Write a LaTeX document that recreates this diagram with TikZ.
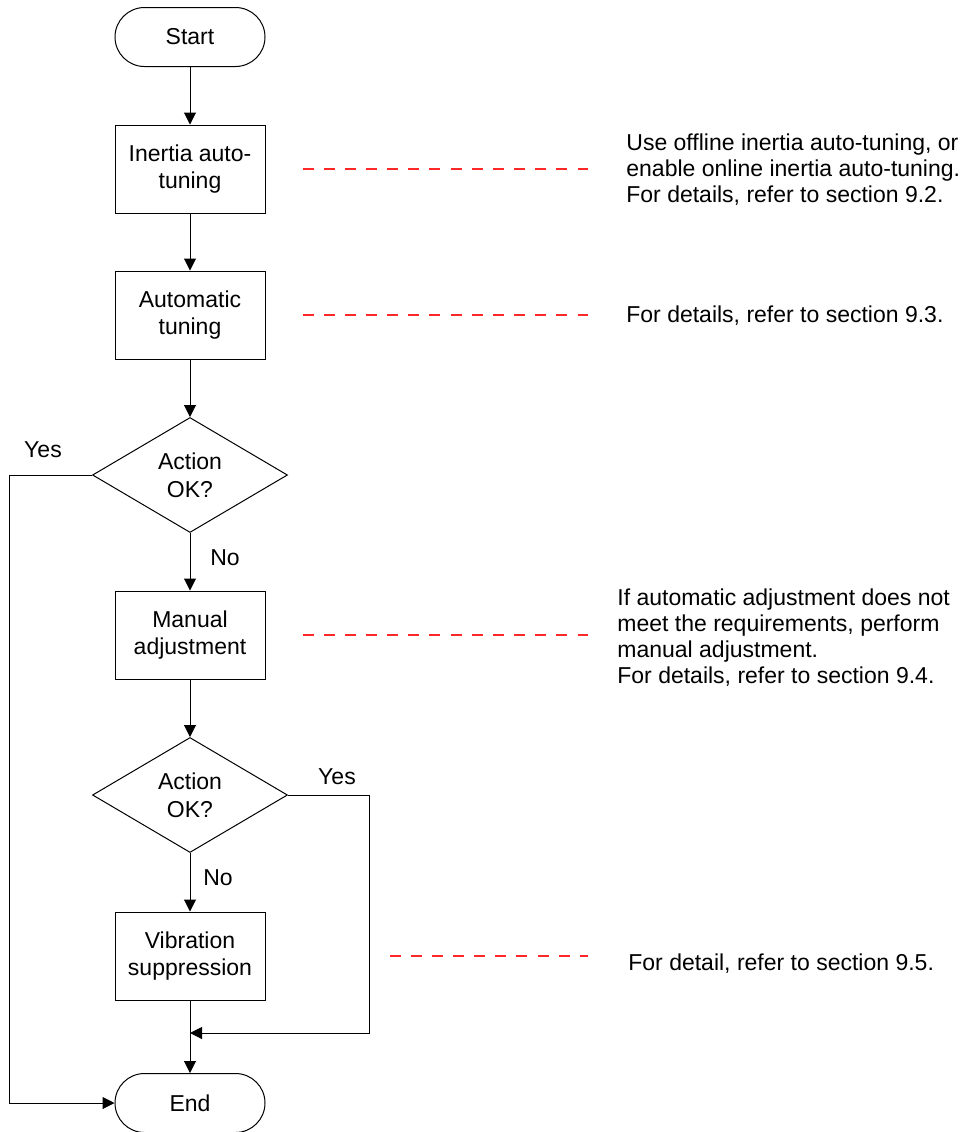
\documentclass[tikz,border=0pt]{standalone}
\usepackage{fontspec}
\setmainfont{Liberation Sans}
\usepackage{xcolor}
\usetikzlibrary{arrows.meta,shapes.geometric}
\definecolor{guidered}{RGB}{255,40,40}

\begin{document}
\begin{tikzpicture}[
  x=0.5pt,y=-0.5pt,
  font=\fontsize{11.5}{13.8}\selectfont,
  term/.style={draw,rectangle,rounded corners=14.75pt,minimum width=75pt,
               minimum height=29.5pt,align=center,line width=0.5pt},
  proc/.style={draw,rectangle,minimum width=75pt,minimum height=44pt,
               align=center,line width=0.5pt,inner sep=2pt},
  decide/.style={draw,diamond,minimum width=97.5pt,minimum height=57.5pt,
                 align=center,line width=0.5pt,inner sep=0pt,aspect=1.7},
  note/.style={anchor=west,align=left,inner sep=0pt,
               font=\fontsize{11.5}{13}\selectfont},
  arr/.style={-{Triangle[length=6pt,width=6pt]},line width=0.5pt},
  plain/.style={line width=0.5pt},
  guide/.style={guidered,line width=0.6pt,dash pattern=on 5.5pt off 5.08pt},
  lbl/.style={inner sep=0pt}
]
\useasboundingbox (0,0) rectangle (964,1132);

%% Main flow
\node[term]   (start)    at (190,37)   {Start};
\node[proc]   (inertia)  at (190,169)  {Inertia auto-\\tuning};
\node[proc]   (autotune) at (190,315)  {Automatic\\tuning};
\node[decide] (check1)   at (190,475)  {Action\\OK?};
\node[proc]   (manual)   at (190,635)  {Manual\\adjustment};
\node[decide] (check2)   at (190,795)  {Action\\OK?};
\node[proc]   (vib)      at (190,956)  {Vibration\\suppression};
\node[term]   (stop)     at (190,1103) {End};
\coordinate (join) at (190,1033);

%% Notes on the right
\node[note] (note1) at (626,170) {Use offline inertia auto-tuning, or\\enable online inertia auto-tuning.\\For details, refer to section 9.2.};
\node[note] (note2) at (626,316) {For details, refer to section 9.3.};
\node[note] (note3) at (617,638) {If automatic adjustment does not\\meet the requirements, perform\\manual adjustment.\\For details, refer to section 9.4.};
\node[note] (note4) at (628,964) {For detail, refer to section 9.5.};

%% Branch labels
\node[lbl] (yes1) at (43,450)  {Yes};
\node[lbl] (no1)  at (225,558) {No};
\node[lbl] (yes2) at (337,777) {Yes};
\node[lbl] (no2)  at (218,878) {No};

%% Arrows
\draw[arr] (start)    -- (inertia);
\draw[arr] (inertia)  -- (autotune);
\draw[arr] (autotune) -- (check1);
\draw[arr] (check1)   -- (manual);
\draw[arr] (manual)   -- (check2);
\draw[arr] (check2)   -- (vib);
\draw[plain] (vib.south) -- (join);
\draw[arr] (join)     -- (stop);
\draw[arr] (check1.west) -- ++(-83,0) |- (stop.west);
\draw[arr] (check2.east) -- ++(81,0) |- (join);

%% Dashed guides
\draw[guide,shorten <=18.5pt,shorten >=19pt] (inertia.east)  -- (inertia.east -| note1.west);
\draw[guide,shorten <=18.5pt,shorten >=19pt] (autotune.east) -- (autotune.east -| note2.west);
\draw[guide,shorten <=18.5pt,shorten >=14.5pt] (manual.east) -- (manual.east -| note3.west);
\draw[guide,shorten <=62pt,shorten >=20pt] (vib.east) -- (vib.east -| note4.west);
\end{tikzpicture}
\end{document}
